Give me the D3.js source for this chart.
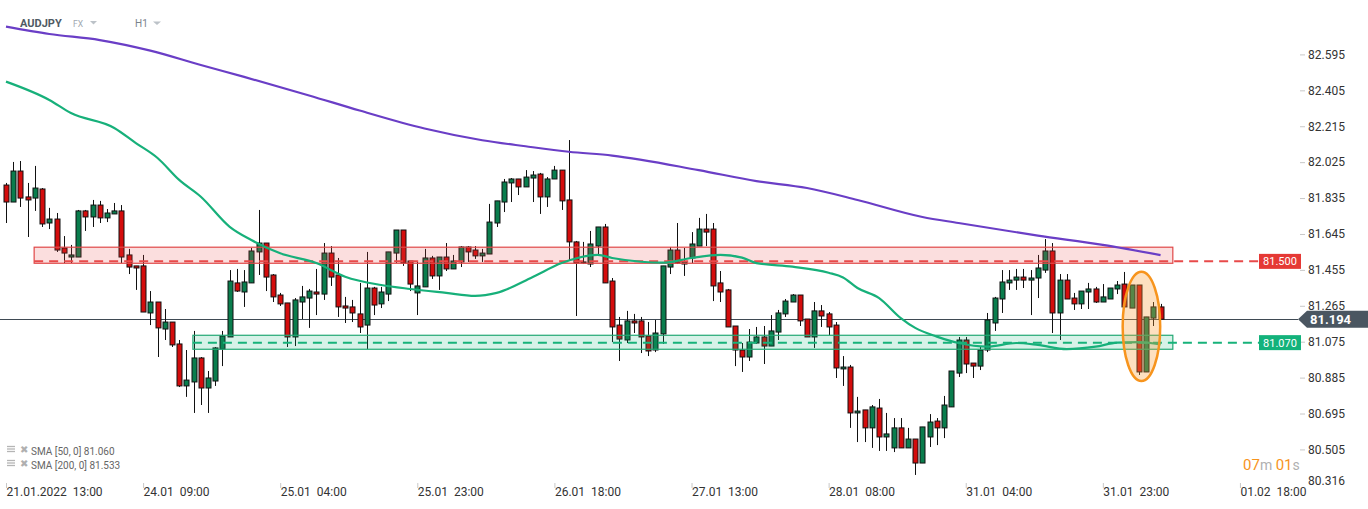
<!DOCTYPE html>
<html><head><meta charset="utf-8">
<script src="https://cdn.jsdelivr.net/npm/d3@7"></script>
<style>
html,body{margin:0;padding:0;background:#fff;}
svg{display:block;font-family:Roboto,"Noto Sans",sans-serif;}
</style></head><body>
<svg id="c" width="1368" height="509"></svg>
<script>
// ---- data (AUDJPY, H1) ----
const openP=[81.904,81.814,81.978,81.841,81.835,81.883,81.703,81.724,81.571,81.523,81.523,81.767,81.735,81.798,81.730,81.751,81.767,81.534,81.476,81.476,81.227,81.285,81.142,81.179,81.063,80.841,80.862,80.989,80.830,80.867,81.036,81.100,81.386,81.338,81.386,81.550,81.597,81.428,81.322,81.280,81.100,81.285,81.306,81.338,81.327,81.544,81.428,81.264,81.259,81.222,81.163,81.359,81.275,81.327,81.544,81.666,81.502,81.333,81.365,81.518,81.423,81.523,81.460,81.497,81.576,81.560,81.529,81.539,81.703,81.814,81.915,81.936,81.894,81.941,81.962,81.841,81.936,81.983,81.825,81.603,81.491,81.486,81.581,81.682,81.396,81.163,81.084,81.185,81.185,81.105,81.031,81.116,81.470,81.560,81.486,81.518,81.581,81.671,81.671,81.386,81.349,81.158,81.031,80.994,81.068,81.100,81.052,81.126,81.222,81.285,81.322,81.195,81.100,81.238,81.222,81.163,80.931,80.941,80.698,80.714,80.619,80.724,80.571,80.513,80.619,80.513,80.560,80.433,80.571,80.655,80.619,80.730,80.909,81.084,80.962,80.946,81.031,81.174,81.301,81.386,81.401,81.417,81.401,81.412,81.454,81.555,81.227,81.401,81.306,81.275,81.338,81.354,81.285,81.301,81.354,81.380,81.253,81.375,80.915,81.200,81.259];
const highP=[81.915,82.026,82.031,81.915,82.005,81.888,81.783,81.756,81.634,81.587,81.772,81.772,81.825,81.820,81.777,81.809,81.798,81.566,81.476,81.534,81.343,81.285,81.248,81.179,81.084,81.031,81.132,80.994,80.920,81.047,81.132,81.454,81.460,81.454,81.571,81.772,81.597,81.433,81.333,81.280,81.306,81.370,81.354,81.460,81.597,81.581,81.518,81.312,81.296,81.386,81.550,81.365,81.365,81.550,81.666,81.666,81.502,81.497,81.566,81.529,81.523,81.597,81.534,81.581,81.581,81.581,81.566,81.804,81.820,81.936,81.941,81.936,81.983,81.978,81.968,81.946,82.005,81.983,82.142,81.608,81.603,81.661,81.682,81.698,81.412,81.206,81.238,81.222,81.206,81.179,81.190,81.476,81.576,81.703,81.571,81.655,81.730,81.751,81.703,81.449,81.354,81.158,81.068,81.142,81.153,81.158,81.216,81.243,81.301,81.327,81.322,81.195,81.285,81.269,81.232,81.179,80.999,80.952,80.783,80.714,80.740,80.772,80.698,80.671,80.671,80.619,80.560,80.624,80.692,80.671,80.788,80.920,81.100,81.100,80.962,81.052,81.227,81.312,81.454,81.454,81.460,81.460,81.454,81.534,81.618,81.597,81.433,81.433,81.333,81.343,81.386,81.365,81.380,81.359,81.396,81.444,81.375,81.375,81.206,81.285,81.275];
const lowP=[81.703,81.814,81.788,81.629,81.767,81.682,81.671,81.550,81.491,81.491,81.523,81.661,81.682,81.703,81.708,81.751,81.491,81.433,81.349,81.232,81.163,80.994,81.084,81.047,80.835,80.783,80.698,80.740,80.698,80.841,80.946,81.100,81.338,81.259,81.386,81.428,81.343,81.285,81.264,81.047,81.052,81.195,81.148,81.216,81.296,81.370,81.206,81.174,81.179,81.121,81.036,81.216,81.253,81.290,81.491,81.476,81.343,81.216,81.365,81.407,81.349,81.449,81.460,81.470,81.497,81.513,81.497,81.539,81.682,81.761,81.814,81.851,81.894,81.814,81.751,81.788,81.936,81.772,81.507,81.211,81.486,81.470,81.534,81.386,81.073,80.973,81.068,81.121,81.015,80.999,81.020,81.063,81.433,81.486,81.423,81.491,81.581,81.581,81.290,81.285,81.153,80.946,80.915,80.973,81.063,80.957,81.052,81.084,81.206,81.285,81.158,81.100,81.042,81.153,81.110,80.883,80.841,80.619,80.544,80.544,80.513,80.497,80.497,80.491,80.513,80.513,80.370,80.433,80.518,80.528,80.565,80.730,80.888,80.909,80.883,80.925,81.020,81.132,81.227,81.349,81.349,81.359,81.216,81.306,81.439,81.121,81.084,81.301,81.243,81.248,81.248,81.280,81.285,81.301,81.327,81.259,81.253,80.899,80.915,81.158,81.194];
const closeP=[81.814,81.978,81.835,81.825,81.888,81.698,81.724,81.560,81.544,81.534,81.767,81.735,81.798,81.730,81.756,81.767,81.523,81.470,81.465,81.232,81.285,81.148,81.179,81.058,80.841,80.872,80.989,80.830,80.883,81.042,81.105,81.396,81.343,81.391,81.555,81.597,81.417,81.312,81.275,81.100,81.296,81.312,81.343,81.327,81.544,81.417,81.259,81.253,81.227,81.153,81.359,81.269,81.338,81.550,81.666,81.491,81.380,81.370,81.518,81.423,81.523,81.460,81.502,81.576,81.550,81.529,81.544,81.708,81.820,81.920,81.936,81.894,81.946,81.957,81.841,81.936,81.983,81.820,81.603,81.491,81.497,81.592,81.682,81.386,81.153,81.089,81.185,81.174,81.100,81.026,81.121,81.476,81.560,81.491,81.497,81.592,81.671,81.655,81.370,81.338,81.153,81.031,80.994,81.073,81.100,81.052,81.132,81.227,81.290,81.322,81.185,81.100,81.238,81.211,81.153,80.936,80.941,80.698,80.708,80.619,80.730,80.571,80.587,80.619,80.513,80.560,80.433,80.624,80.650,80.619,80.740,80.920,81.084,80.957,80.946,81.031,81.190,81.306,81.391,81.401,81.417,81.401,81.412,81.465,81.555,81.227,81.401,81.301,81.275,81.343,81.354,81.285,81.312,81.359,81.375,81.259,81.375,80.915,81.206,81.259,81.194];

const sma200Idx=[0,6,13,20,27,33,42,49,58,66,72,78,84,96,104,111,118,127,132,143,152,160];
const sma200Val=[82.742,82.703,82.671,82.615,82.539,82.476,82.378,82.298,82.203,82.141,82.109,82.080,82.060,81.983,81.925,81.888,81.825,81.735,81.703,81.636,81.587,81.533];
const sma50Idx=[0,6,9,15,18,21,24,27,31,34,38,43,47,52,56,61,65,68,73,77,82,84,88,91,95,99,102,104,109,114,116,118,121,124,126,129,132,136,140,143,147,151,154,157,160];
const sma50Val=[82.451,82.354,82.285,82.206,82.126,82.047,81.931,81.842,81.683,81.613,81.543,81.491,81.419,81.375,81.354,81.333,81.317,81.333,81.417,81.491,81.534,81.518,81.498,81.493,81.518,81.534,81.520,81.491,81.472,81.440,81.415,81.359,81.306,81.200,81.148,81.102,81.068,81.049,81.068,81.058,81.036,81.049,81.070,81.073,81.060];

const xTickIdx=[0,19,38,57,76,95,114,133,152,171];
const xTickLabels=["21.01.2022  13:00","24.01  09:00","25.01  04:00","25.01  23:00","26.01  18:00","27.01  13:00","28.01  08:00","31.01  04:00","31.01  23:00","01.02  18:00"];
const yTicks=[82.595,82.405,82.215,82.025,81.835,81.645,81.455,81.265,81.075,80.885,80.695,80.505,80.316];

const resistanceZone=[81.490,81.575];
const supportZone=[81.035,81.109];
const zoneStartIdx=[3.9,25.9];
const zoneEndIdx=161.7;
const resistanceLevel=81.500;
const supportLevel=81.070;
const lastPrice=81.194;
const highlightIdx=[154.75,159.95];
const highlightRange=[80.867,81.445];
const smaLegend=["SMA [50, 0] 81.060","SMA [200, 0] 81.533"];

// ---- drawing ----
const svg=d3.select("#c");
const x=d3.scaleLinear().domain([0,179]).range([6,6+179*7.216]);
const y=d3.scaleLinear().domain([80.316,82.595]).range([485.15,54.42]);

const candles=openP.map((o,i)=>({i,o,h:highP[i],l:lowP[i],c:closeP[i]}));

// current price line
svg.append("line").attr("x1",0).attr("x2",1298)
  .attr("y1",Math.round(y(lastPrice))+0.5).attr("y2",Math.round(y(lastPrice))+0.5)
  .attr("stroke","#3f4a54").attr("stroke-width",1);

// candles
const cg=svg.append("g");
candles.forEach(d=>{
  const cx=Math.round(x(d.i))+0.5;
  cg.append("line").attr("x1",cx).attr("x2",cx).attr("y1",y(d.h)).attr("y2",y(d.l))
    .attr("stroke","#111").attr("stroke-width",1);
  const top=y(Math.max(d.o,d.c)), bot=y(Math.min(d.o,d.c));
  cg.append("rect").attr("x",cx-2.5).attr("width",5)
    .attr("y",top).attr("height",Math.max(1,bot-top))
    .attr("fill",d.c>=d.o?"#0a7d4d":"#d40c0c")
    .attr("stroke","#111").attr("stroke-width",1);
});

// zones
svg.append("rect").attr("x",x(zoneStartIdx[0])).attr("width",x(zoneEndIdx)-x(zoneStartIdx[0]))
  .attr("y",y(resistanceZone[1])).attr("height",y(resistanceZone[0])-y(resistanceZone[1]))
  .attr("fill","rgba(232,70,70,0.18)").attr("stroke","#e04848").attr("stroke-width",1.2);
svg.append("rect").attr("x",x(zoneStartIdx[1])).attr("width",x(zoneEndIdx)-x(zoneStartIdx[1]))
  .attr("y",y(supportZone[1])).attr("height",y(supportZone[0])-y(supportZone[1]))
  .attr("fill","rgba(20,180,120,0.17)").attr("stroke","#22a874").attr("stroke-width",1.2);

// dashed levels
svg.append("line").attr("x1",x(zoneStartIdx[0])).attr("x2",1259)
  .attr("y1",y(resistanceLevel)).attr("y2",y(resistanceLevel))
  .attr("stroke","#e84a4a").attr("stroke-width",2).attr("stroke-dasharray","9,6");
svg.append("line").attr("x1",x(zoneStartIdx[1])).attr("x2",1259)
  .attr("y1",y(supportLevel)).attr("y2",y(supportLevel))
  .attr("stroke","#17b27a").attr("stroke-width",2).attr("stroke-dasharray","9,6");

// SMAs
const line=d3.line().x(d=>x(d[0])).y(d=>y(d[1])).curve(d3.curveMonotoneX);
svg.append("path").datum(sma200Idx.map((d,k)=>[d,sma200Val[k]])).attr("d",line)
  .attr("fill","none").attr("stroke","#6a3ec6").attr("stroke-width",2.2);
svg.append("path").datum(sma50Idx.map((d,k)=>[d,sma50Val[k]])).attr("d",line)
  .attr("fill","none").attr("stroke","#17b07a").attr("stroke-width",2.2);

// highlight ellipse
const ecx=(x(highlightIdx[0])+x(highlightIdx[1]))/2, ecy=(y(highlightRange[0])+y(highlightRange[1]))/2;
svg.append("ellipse").attr("cx",ecx).attr("cy",ecy)
  .attr("rx",(x(highlightIdx[1])-x(highlightIdx[0]))/2).attr("ry",(y(highlightRange[0])-y(highlightRange[1]))/2)
  .attr("fill","rgba(250,160,60,0.32)").attr("stroke","#f7941d").attr("stroke-width",2.5);

// y axis
const ya=svg.append("g").attr("transform","translate(1300,0)")
  .call(d3.axisRight(y).tickValues(yTicks).tickSize(5).tickFormat(d3.format(".3f")));
ya.select(".domain").remove();
ya.selectAll(".tick line").attr("stroke","#c8c8c8");
ya.selectAll(".tick text").attr("x",8).attr("fill","#333").style("font-size","12px").style("font-family","Roboto,sans-serif");
ya.selectAll(".tick").filter(d=>y(d)>478).attr("transform","translate(0,481)").select("line").remove();

// x axis
const xa=svg.append("g").attr("transform","translate(0,483)")
  .call(d3.axisBottom(x).tickValues(xTickIdx).tickSize(5).tickFormat((d,k)=>xTickLabels[k]));
xa.select(".domain").remove();
xa.selectAll(".tick line").attr("stroke","#c8c8c8");
xa.selectAll(".tick text").attr("text-anchor","start").attr("x",0).attr("y",13).attr("dy",null)
  .attr("fill","#333").style("font-size","12px").style("white-space","pre").style("font-family","Roboto,sans-serif");

// level labels
function levelLabel(v,col){
  const g=svg.append("g");
  g.append("rect").attr("x",1259).attr("y",y(v)-7.5).attr("width",42).attr("height",15).attr("fill",col);
  g.append("text").attr("x",1280).attr("y",y(v)+4).attr("text-anchor","middle")
    .attr("fill","#fff").style("font-size","11px").text(d3.format(".3f")(v));
}
levelLabel(resistanceLevel,"#e53935");
levelLabel(supportLevel,"#13b27b");

// last price tag
const ly=y(lastPrice);
svg.append("path").attr("d",`M1298,${ly} L1307,${ly-8.5} L1368,${ly-8.5} L1368,${ly+8.5} L1307,${ly+8.5} Z`).attr("fill","#4a5661");
svg.append("text").attr("x",1310).attr("y",ly+4.5).attr("fill","#fff")
  .style("font-size","13px").style("font-weight","bold").text(d3.format(".3f")(lastPrice));

// header
svg.append("text").attr("x",20).attr("y",27).attr("fill","#4f5a64").style("font-size","11px").style("font-weight","bold").text("AUDJPY");
svg.append("text").attr("x",73).attr("y",27).attr("fill","#a0a8b0").style("font-size","8.5px").text("FX");
svg.append("path").attr("d","M90,21 L97,21 L93.5,24.5 Z").attr("fill","#bcc2c8");
svg.append("text").attr("x",135).attr("y",27).attr("fill","#7a838c").style("font-size","10px").text("H1");
svg.append("path").attr("d","M153,21.5 L161,21.5 L157,25 Z").attr("fill","#bcc2c8");

// legend
smaLegend.forEach((t,k)=>{
  const yy=446+k*14;
  [0,2.5,5].forEach(o=>svg.append("line").attr("x1",7).attr("x2",15).attr("y1",yy+o+0.5).attr("y2",yy+o+0.5).attr("stroke","#b5b5b5").attr("stroke-width",1.3));
  svg.append("text").attr("x",19.5).attr("y",yy+7).attr("fill","#b0b0b0").style("font-size","9.5px").text("✖");
  svg.append("text").attr("x",31).attr("y",yy+8.5).attr("fill","#666").style("font-size","10px").text(t);
});

// countdown
const cd=svg.append("text").attr("x",1243).attr("y",470).style("font-size","15px");
cd.append("tspan").attr("fill","#f7941d").text("07");
cd.append("tspan").attr("fill","#b0b0b0").style("font-size","14px").text("m ");
cd.append("tspan").attr("fill","#f7941d").text("01");
cd.append("tspan").attr("fill","#b0b0b0").style("font-size","14px").text("s");
</script>
</body></html>
